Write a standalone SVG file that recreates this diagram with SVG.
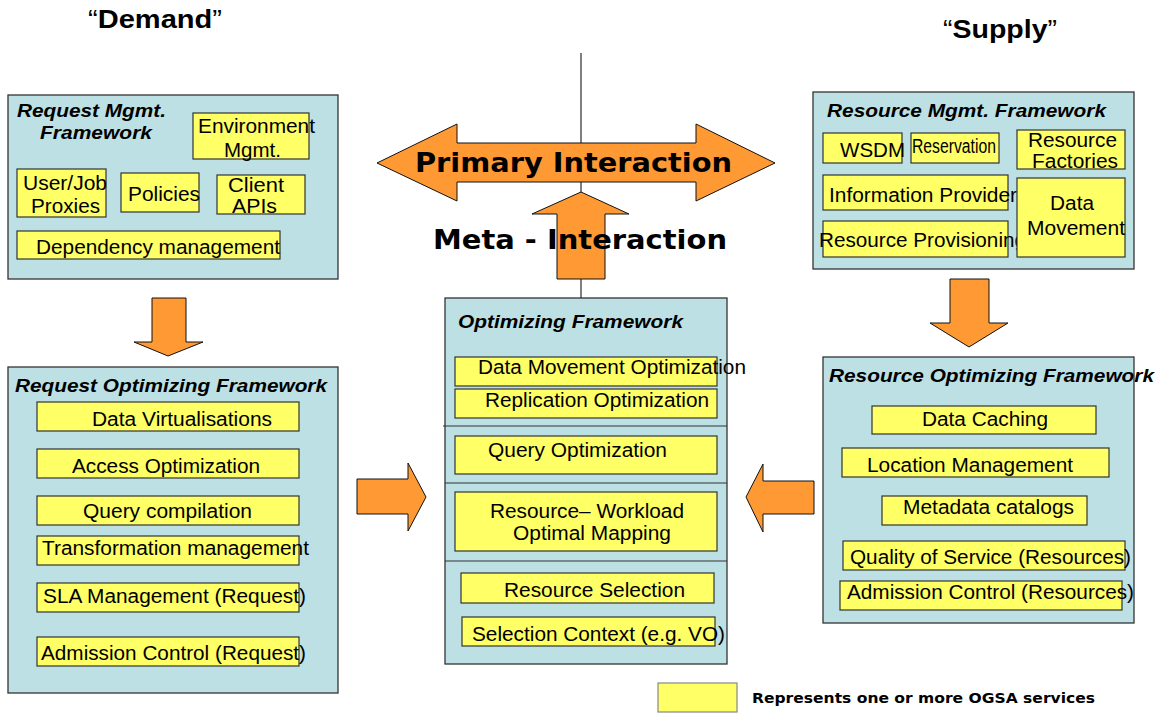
<svg xmlns="http://www.w3.org/2000/svg" width="1158" height="713" viewBox="0 0 1158 713">
  <style>
    .frame { fill: #BCE0E3; stroke: #333; stroke-width: 1.3; }
    .svc { fill: #FFFF66; stroke: #333; stroke-width: 1.2; }
    .arrow { fill: #FF9933; stroke: #111; stroke-width: 1; stroke-linejoin: miter; }
    .t { font-family: "Liberation Sans", Arial, sans-serif; font-size: 20px; fill: #000; }
    .title { font-family: "Liberation Sans", Arial, sans-serif; font-size: 18px; font-weight: bold; font-style: italic; fill: #000; }
    .big { font-family: "DejaVu Sans", Verdana, sans-serif; font-size: 26px; font-weight: bold; fill: #000; }
    .side { font-family: "Liberation Sans", Arial, sans-serif; font-size: 25px; fill: #000; }
    .legend { font-family: "DejaVu Sans", Verdana, sans-serif; font-size: 14px; font-weight: bold; fill: #000; }
  </style>
  <rect width="1158" height="713" fill="#fff"/>

  <!-- side headings -->
  <g id="demand-label">
    <text class="side" x="88" y="28" textLength="134" lengthAdjust="spacingAndGlyphs">“<tspan font-weight="bold">Demand</tspan>”</text>
  </g>
  <g id="supply-label">
    <text class="side" x="943" y="38" textLength="114" lengthAdjust="spacingAndGlyphs">“<tspan font-weight="bold">Supply</tspan>”</text>
  </g>

  <!-- connectors: divider line and block arrows -->
  <g id="connectors">
    <line x1="581" y1="53" x2="581" y2="298" stroke="#555" stroke-width="1.5"/>
    <polygon class="arrow" points="377,163 457,124 457,143 696,143 696,124 775,163 696,201 696,182 457,182 457,201"/>
    <polygon class="arrow" points="581,192 629,214 605,214 605,279 557,279 557,214 532,214"/>
    <polygon class="arrow" points="152,298 186,298 186,342 203,342 168,356 134,342 152,342"/>
    <polygon class="arrow" points="950,279 989,279 989,323 1008,323 969,347 930,323 950,323"/>
    <polygon class="arrow" points="357,479 408,479 408,463 426,497 408,531 408,514 357,514"/>
    <polygon class="arrow" points="746,497 763,464 763,481 814,481 814,514 763,514 763,532"/>
    <text class="big" x="415" y="172" textLength="317" lengthAdjust="spacingAndGlyphs">Primary Interaction</text>
    <text class="big" x="433" y="249" textLength="294" lengthAdjust="spacingAndGlyphs">Meta - Interaction</text>
  </g>

  <!-- Request management framework -->
  <g id="request-mgmt">
    <rect class="frame" x="8" y="95" width="330" height="184"/>
    <text class="title" x="17" y="117" textLength="149" lengthAdjust="spacingAndGlyphs">Request Mgmt.</text>
    <text class="title" x="40" y="139" textLength="112" lengthAdjust="spacingAndGlyphs">Framework</text>
    <rect class="svc" x="193" y="113" width="116" height="46"/>
    <text class="t" x="198" y="133" textLength="117" lengthAdjust="spacingAndGlyphs">Environment</text>
    <text class="t" x="224" y="157" textLength="57" lengthAdjust="spacingAndGlyphs">Mgmt.</text>
    <rect class="svc" x="17" y="169" width="89" height="48"/>
    <text class="t" x="23" y="190" textLength="84" lengthAdjust="spacingAndGlyphs">User/Job</text>
    <text class="t" x="31" y="213" textLength="69" lengthAdjust="spacingAndGlyphs">Proxies</text>
    <rect class="svc" x="121" y="173" width="78" height="39"/>
    <text class="t" x="128" y="201" textLength="72" lengthAdjust="spacingAndGlyphs">Policies</text>
    <rect class="svc" x="217" y="175" width="88" height="39"/>
    <text class="t" x="228" y="192" textLength="56" lengthAdjust="spacingAndGlyphs">Client</text>
    <text class="t" x="232" y="213" textLength="45" lengthAdjust="spacingAndGlyphs">APIs</text>
    <rect class="svc" x="17" y="231" width="263" height="28"/>
    <text class="t" x="36" y="254" textLength="244" lengthAdjust="spacingAndGlyphs">Dependency management</text>
  </g>

  <!-- Resource management framework -->
  <g id="resource-mgmt">
    <rect class="frame" x="813" y="92" width="321" height="177"/>
    <text class="title" x="827" y="117" textLength="279" lengthAdjust="spacingAndGlyphs">Resource Mgmt. Framework</text>
    <rect class="svc" x="823" y="133" width="79" height="30"/>
    <text class="t" x="840" y="157" textLength="65" lengthAdjust="spacingAndGlyphs">WSDM</text>
    <rect class="svc" x="911" y="133" width="88" height="30"/>
    <text class="t" x="912" y="153" font-size="15" textLength="84" lengthAdjust="spacingAndGlyphs">Reservation</text>
    <rect class="svc" x="1017" y="130" width="108" height="39"/>
    <text class="t" x="1028" y="147" textLength="89" lengthAdjust="spacingAndGlyphs">Resource</text>
    <text class="t" x="1032" y="168" textLength="86" lengthAdjust="spacingAndGlyphs">Factories</text>
    <rect class="svc" x="823" y="175" width="185" height="35"/>
    <text class="t" x="829" y="202" textLength="188" lengthAdjust="spacingAndGlyphs">Information Provider</text>
    <rect class="svc" x="823" y="221" width="185" height="36"/>
    <text class="t" x="819" y="247" textLength="207" lengthAdjust="spacingAndGlyphs">Resource Provisioning</text>
    <rect class="svc" x="1017" y="178" width="108" height="79"/>
    <text class="t" x="1050" y="210" textLength="44" lengthAdjust="spacingAndGlyphs">Data</text>
    <text class="t" x="1027" y="235" textLength="98" lengthAdjust="spacingAndGlyphs">Movement</text>
  </g>

  <!-- Central optimizing framework -->
  <g id="optimizing">
    <rect class="frame" x="445" y="298" width="282" height="366"/>
    <line x1="443" y1="426" x2="727" y2="426" stroke="#333" stroke-width="1.2"/>
    <line x1="445" y1="483" x2="727" y2="483" stroke="#333" stroke-width="1.2"/>
    <line x1="445" y1="561" x2="727" y2="561" stroke="#333" stroke-width="1.2"/>
    <text class="title" x="458" y="328" textLength="225" lengthAdjust="spacingAndGlyphs">Optimizing Framework</text>
    <rect class="svc" x="455" y="357" width="262" height="29"/>
    <text class="t" x="478" y="374" textLength="268" lengthAdjust="spacingAndGlyphs">Data Movement Optimization</text>
    <rect class="svc" x="455" y="389" width="262" height="29"/>
    <text class="t" x="485" y="407" textLength="224" lengthAdjust="spacingAndGlyphs">Replication Optimization</text>
    <rect class="svc" x="455" y="436" width="262" height="38"/>
    <text class="t" x="488" y="457" textLength="179" lengthAdjust="spacingAndGlyphs">Query Optimization</text>
    <rect class="svc" x="455" y="492" width="262" height="59"/>
    <text class="t" x="490" y="518" textLength="194" lengthAdjust="spacingAndGlyphs">Resource– Workload</text>
    <text class="t" x="513" y="540" textLength="158" lengthAdjust="spacingAndGlyphs">Optimal Mapping</text>
    <rect class="svc" x="461" y="573" width="253" height="30"/>
    <text class="t" x="504" y="597" textLength="181" lengthAdjust="spacingAndGlyphs">Resource Selection</text>
    <rect class="svc" x="462" y="617" width="253" height="29"/>
    <text class="t" x="472" y="641" textLength="253" lengthAdjust="spacingAndGlyphs">Selection Context (e.g. VO)</text>
  </g>

  <!-- Request optimizing framework -->
  <g id="request-optimizing">
    <rect class="frame" x="8" y="367" width="330" height="326"/>
    <text class="title" x="15" y="392" textLength="312" lengthAdjust="spacingAndGlyphs">Request Optimizing Framework</text>
    <rect class="svc" x="37" y="402" width="262" height="29"/>
    <text class="t" x="92" y="426" textLength="180" lengthAdjust="spacingAndGlyphs">Data Virtualisations</text>
    <rect class="svc" x="37" y="449" width="262" height="29"/>
    <text class="t" x="72" y="473" textLength="188" lengthAdjust="spacingAndGlyphs">Access Optimization</text>
    <rect class="svc" x="37" y="496" width="262" height="29"/>
    <text class="t" x="83" y="518" textLength="169" lengthAdjust="spacingAndGlyphs">Query compilation</text>
    <rect class="svc" x="37" y="536" width="262" height="29"/>
    <text class="t" x="42" y="555" textLength="267" lengthAdjust="spacingAndGlyphs">Transformation management</text>
    <rect class="svc" x="37" y="583" width="262" height="29"/>
    <text class="t" x="43" y="603" textLength="263" lengthAdjust="spacingAndGlyphs">SLA Management (Request)</text>
    <rect class="svc" x="37" y="637" width="262" height="29"/>
    <text class="t" x="41" y="660" textLength="265" lengthAdjust="spacingAndGlyphs">Admission Control (Request)</text>
  </g>

  <!-- Resource optimizing framework -->
  <g id="resource-optimizing">
    <rect class="frame" x="823" y="357" width="311" height="266"/>
    <text class="title" x="829" y="382" textLength="325" lengthAdjust="spacingAndGlyphs">Resource Optimizing Framework</text>
    <rect class="svc" x="872" y="406" width="224" height="28"/>
    <text class="t" x="922" y="426" textLength="126" lengthAdjust="spacingAndGlyphs">Data Caching</text>
    <rect class="svc" x="842" y="448" width="267" height="29"/>
    <text class="t" x="867" y="472" textLength="206" lengthAdjust="spacingAndGlyphs">Location Management</text>
    <rect class="svc" x="882" y="496" width="205" height="29"/>
    <text class="t" x="903" y="514" textLength="171" lengthAdjust="spacingAndGlyphs">Metadata catalogs</text>
    <rect class="svc" x="843" y="541" width="282" height="29"/>
    <text class="t" x="850" y="564" textLength="281" lengthAdjust="spacingAndGlyphs">Quality of Service (Resources)</text>
    <rect class="svc" x="840" y="581" width="282" height="29"/>
    <text class="t" x="847" y="599" textLength="287" lengthAdjust="spacingAndGlyphs">Admission Control (Resources)</text>
  </g>

  <!-- legend -->
  <g id="legend">
    <rect x="658" y="683" width="79" height="29" fill="#FFFF66" stroke="#888" stroke-width="1.2"/>
    <text class="legend" x="752" y="703" textLength="343" lengthAdjust="spacingAndGlyphs">Represents one or more OGSA services</text>
  </g>
</svg>
